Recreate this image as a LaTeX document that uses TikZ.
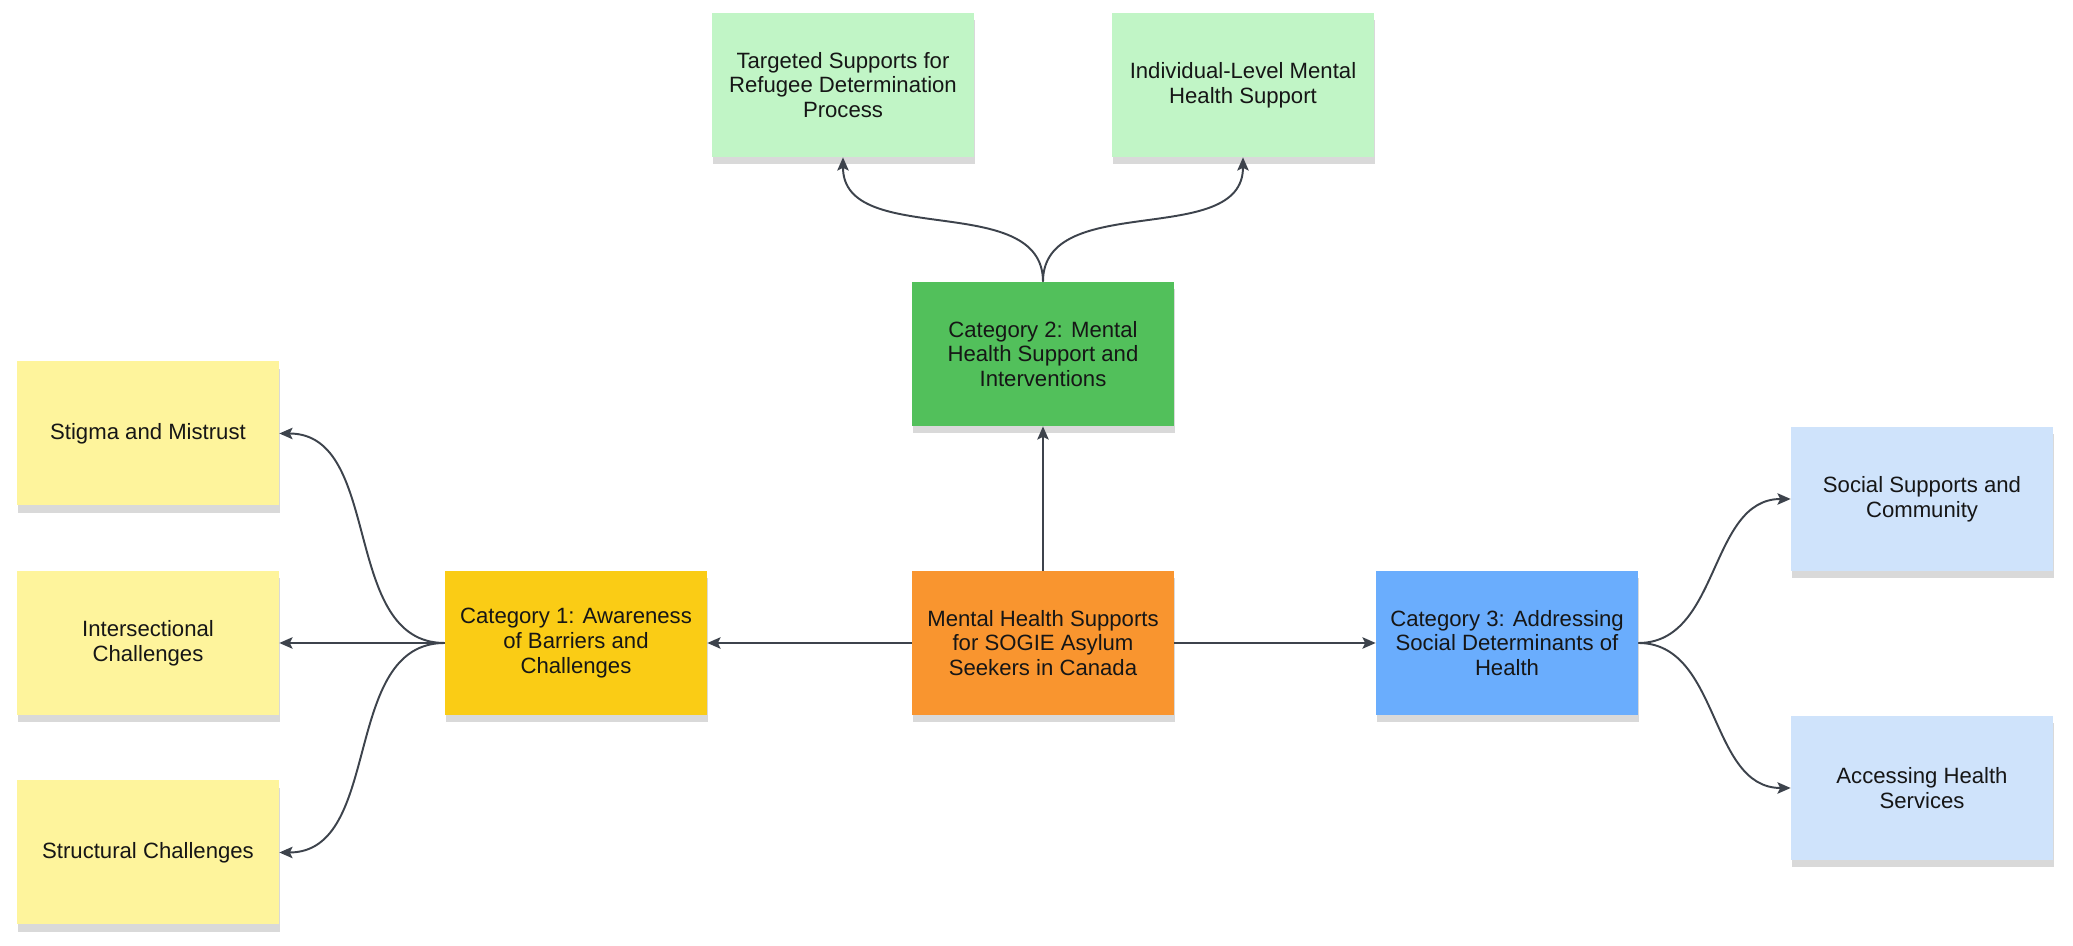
\documentclass[tikz,border=0pt]{standalone}
\usepackage{fontspec}
\setmainfont{Liberation Sans}
\usepackage{tikz}
\usetikzlibrary{arrows,arrows.meta,shadows,positioning}
\definecolor{edgegray}{HTML}{3D434C}
\definecolor{notetext}{HTML}{161616}
\definecolor{rootorange}{HTML}{F9952F}
\definecolor{catgold}{HTML}{FACC15}
\definecolor{catgreen}{HTML}{52C05B}
\definecolor{catblue}{HTML}{6AADFD}
\definecolor{leafyellow}{HTML}{FEF49C}
\definecolor{leafgreen}{HTML}{C1F5C6}
\definecolor{leafblue}{HTML}{CFE3FB}

\begin{document}
\begin{tikzpicture}[->,>={Stealth[length=7.5pt,width=6.5pt,inset=1.5pt]},node distance=9.3cm,
                note/.style={rectangle, minimum width=5.24cm, minimum height=2.88cm,
                    align=center, text=notetext, font=\fontsize{12.6}{14}\selectfont,
                    drop shadow={shadow xshift=0.8pt, shadow yshift=-4pt, opacity=.15, fill=black}},
                every edge/.style={draw=edgegray, line width=1.1pt}]
                \useasboundingbox[fill=white] (-20.86,-6.06) rectangle (20.6,12.86);

                % Define the notes
                \node[note, fill=rootorange] (root) at (0,0) {Mental Health Supports\\for SOGIE Asylum\\Seekers in Canada};
                \node[note, fill=catgold]   (cat1) [left of=root, node distance=9.34cm]  {Category 1: Awareness\\of Barriers and\\Challenges};
                \node[note, fill=catgreen]  (cat2) [above of=root, node distance=5.78cm] {Category 2: Mental\\Health Support and\\Interventions};
                \node[note, fill=catblue]   (cat3) [right of=root, node distance=9.28cm] {Category 3: Addressing\\Social Determinants of\\Health};

                \node[note, fill=leafyellow] (inter)  [left of=cat1, node distance=8.56cm]  {Intersectional\\Challenges};
                \node[note, fill=leafyellow] (stigma) [above of=inter, node distance=4.19cm] {Stigma and Mistrust};
                \node[note, fill=leafyellow] (struct) [below of=inter, node distance=4.19cm] {Structural Challenges};

                \node[note, fill=leafgreen] (target) [above of=cat2, node distance=5.38cm, xshift=-4cm] {Targeted Supports for\\Refugee Determination\\Process};
                \node[note, fill=leafgreen] (indiv)  [above of=cat2, node distance=5.38cm, xshift=4cm]  {Individual-Level Mental\\Health Support};

                \node[note, fill=leafblue] (social) [right of=cat3, node distance=8.3cm, yshift=2.88cm]  {Social Supports and\\Community};
                \node[note, fill=leafblue] (access) [right of=cat3, node distance=8.3cm, yshift=-2.9cm]  {Accessing Health\\Services};

                % Connect the notes with arrows
                \path (root) edge (cat1.east);
                \path (root) edge (cat2.south);
                \path (root) edge (cat3.west);

                \path (cat1.west) edge [out=180, in=0] (stigma.east);
                \path (cat1.west) edge (inter.east);
                \path (cat1.west) edge [out=180, in=0] (struct.east);

                \path (cat2.north) edge [out=90, in=-90] (target.south);
                \path (cat2.north) edge [out=90, in=-90] (indiv.south);

                \path (cat3.east) edge [out=0, in=180] (social.west);
                \path (cat3.east) edge [out=0, in=180] (access.west);

            \end{tikzpicture}
\end{document}
